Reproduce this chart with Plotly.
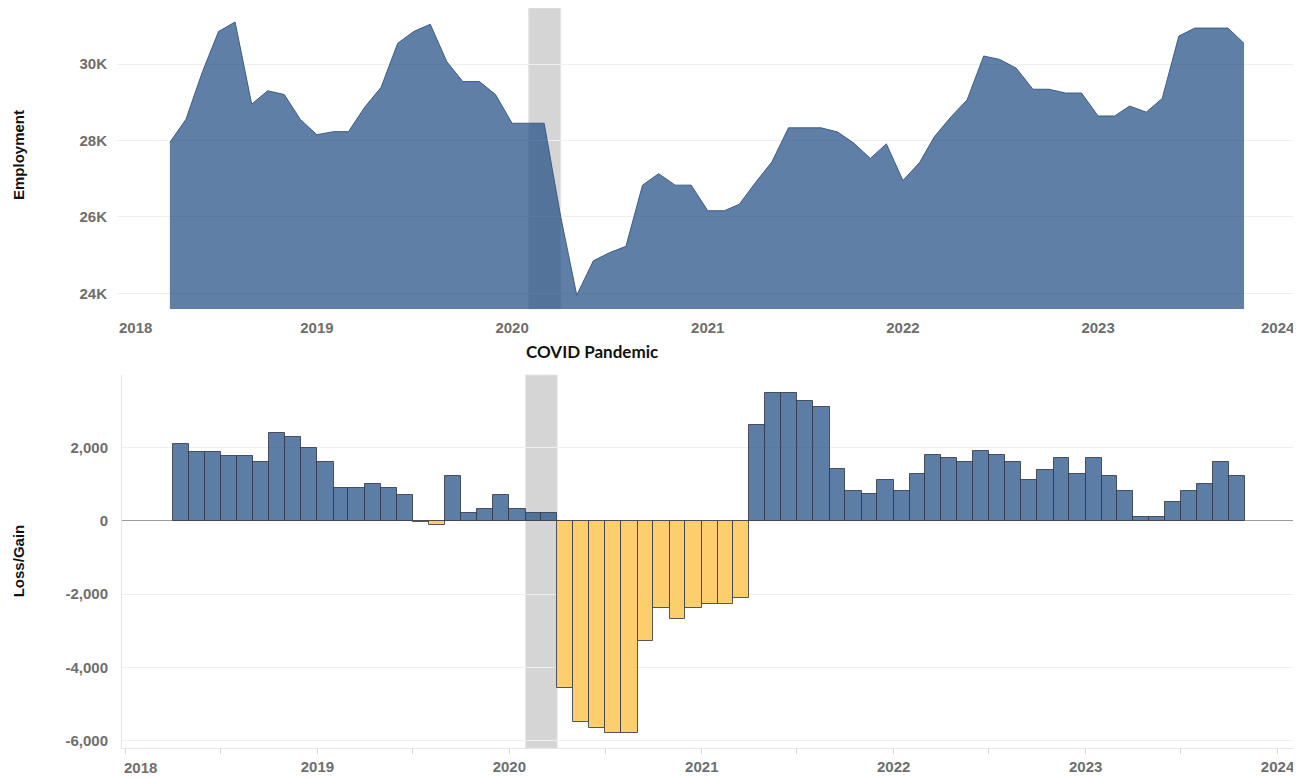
import pandas as pd
import plotly.graph_objects as go

# ---------------- data ----------------
MONTHS = pd.date_range("2018-04-01", "2023-10-01", freq="MS")

EMPLOYMENT = [
    27950, 28550, 29800, 30850, 31100, 28950, 29300, 29200, 28550,            # 2018 Apr-Dec
    28150, 28230, 28230, 28880, 29390, 30540, 30850, 31040, 30060, 29540, 29540, 29200,  # 2019
    28450, 28450, 28450, 26000, 23950, 24850, 25060, 25230, 26830, 27130, 26830, 26830,  # 2020
    26160, 26160, 26330, 26910, 27440, 28330, 28330, 28330, 28220, 27930, 27530, 27910,  # 2021
    26950, 27420, 28100, 28620, 29060, 30210, 30120, 29890, 29340, 29340, 29240, 29240,  # 2022
    28640, 28640, 28900, 28740, 29100, 30730, 30940, 30940, 30940, 30540,              # 2023 Jan-Oct
]

LOSS_GAIN = [
    2100, 1880, 1880, 1770, 1770, 1600, 2390, 2280, 1990,
    1600, 890, 890, 1000, 890, 710, -30, -110, 1220, 220, 330, 710,
    310, 220, 220, -4570, -5500, -5660, -5780, -5780, -3290, -2380, -2670, -2390,
    -2280, -2280, -2100, 2610, 3490, 3490, 3270, 3100, 1400, 810, 720, 1110,
    810, 1280, 1780, 1710, 1600, 1890, 1780, 1600, 1110, 1390, 1710, 1280,
    1710, 1210, 820, 110, 110, 500, 820, 1000, 1610, 1210,
]

EMP_TICKS = [24000, 26000, 28000, 30000]
EMP_TICK_TEXT = ["24K", "26K", "28K", "30K"]
LG_TICKS = [-6000, -4000, -2000, 0, 2000]
LG_TICK_TEXT = ["-6,000", "-4,000", "-2,000", "0", "2,000"]
YEARS = [2018, 2019, 2020, 2021, 2022, 2023, 2024]

COVID_START = "2020-02-01"
COVID_END = "2020-04-01"
COVID_LABEL = "COVID Pandemic"

# ---------------- layout helpers ----------------
# the page body keeps its default 8px margin, so the figure is drawn 8px in
PAGE_W, PAGE_H, BODY = 1301, 778, 8
W, H = PAGE_W - BODY, PAGE_H - BODY


def fx(px):
    return min(1.0, max(0.0, (px - BODY) / W))


def fy(py):
    return min(1.0, max(0.0, 1 - (py - BODY) / H))


BLUE_AREA = "rgba(28,72,128,0.70)"
BLUE_LINE = "rgba(60,92,135,1)"
BLUE_BAR = "rgba(35,80,135,0.74)"
YELLOW_BAR = "rgba(253,198,85,0.85)"
BAR_EDGE = "rgba(55,60,70,0.85)"
GRAY_BAND = "#d5d5d5"
GRID = "#efefef"
TICK_COLOR = "#6e6e6e"
TICK_FONT = dict(family="Liberation Sans", size=15, color=TICK_COLOR, weight="bold")

month_widths = [
    ((m + pd.offsets.MonthBegin(1)) - m).total_seconds() * 1000 for m in MONTHS
]
bar_colors = [BLUE_BAR if v >= 0 else YELLOW_BAR for v in LOSS_GAIN]

fig = go.Figure()

fig.add_trace(
    go.Scatter(
        x=MONTHS,
        y=EMPLOYMENT,
        mode="lines",
        fill="tozeroy",
        fillcolor=BLUE_AREA,
        line=dict(color=BLUE_LINE, width=1),
        xaxis="x",
        yaxis="y",
        hoverinfo="x+y",
        showlegend=False,
    )
)

fig.add_trace(
    go.Bar(
        x=MONTHS,
        y=LOSS_GAIN,
        width=month_widths,
        offset=0,
        marker=dict(color=bar_colors, line=dict(color=BAR_EDGE, width=1)),
        xaxis="x2",
        yaxis="y2",
        showlegend=False,
    )
)

year_dates = [pd.Timestamp(f"{y}-01-01") for y in YEARS]

fig.update_layout(
    width=W,
    height=H,
    margin=dict(l=0, r=0, t=0, b=0),
    paper_bgcolor="white",
    plot_bgcolor="white",
    bargap=0,
    xaxis=dict(
        domain=[fx(117), fx(1297)],
        range=["2017-12-23 03:00", "2024-01-08"],
        type="date",
        tickvals=year_dates[1:-1],
        ticktext=[str(y) for y in YEARS[1:-1]],
        showgrid=False,
        zeroline=False,
        showline=False,
        ticks="",
        tickfont=TICK_FONT,
        ticklabelstandoff=8,
        automargin=False,
        anchor="y",
    ),
    yaxis=dict(
        domain=[fy(309), fy(8)],
        range=[23589, 31466],
        tickvals=EMP_TICKS,
        ticktext=EMP_TICK_TEXT,
        showgrid=True,
        gridcolor=GRID,
        gridwidth=1,
        zeroline=False,
        showline=False,
        ticks="",
        tickfont=TICK_FONT,
        ticklabelstandoff=9,
        automargin=False,
        anchor="x",
    ),
    xaxis2=dict(
        domain=[fx(122), fx(1297)],
        range=["2017-12-25 08:00", "2024-02-07"],
        type="date",
        tickvals=year_dates[1:],
        ticktext=[str(y) for y in YEARS[1:]],
        showgrid=False,
        zeroline=False,
        showline=True,
        linecolor="#e6e6e6",
        linewidth=1,
        ticks="",
        minor=dict(ticks="outside", dtick="M6", tick0="2018-01-01",
                   ticklen=5, tickcolor="#d6d6d6", tickwidth=1, showgrid=False),
        tickfont=TICK_FONT,
        ticklabelstandoff=5,
        automargin=False,
        anchor="y2",
    ),
    yaxis2=dict(
        domain=[fy(748.3), fy(375)],
        range=[-6207, 3973],
        tickvals=LG_TICKS,
        ticktext=LG_TICK_TEXT,
        showgrid=True,
        gridcolor=GRID,
        gridwidth=1,
        zeroline=True,
        zerolinecolor="#9c9c9c",
        zerolinewidth=1,
        showline=True,
        linecolor="#e6e6e6",
        linewidth=1,
        ticks="",
        tickfont=TICK_FONT,
        ticklabelstandoff=10,
        automargin=False,
        anchor="x2",
    ),
    shapes=[
        dict(type="rect", xref="x", yref="y domain", x0=COVID_START, x1=COVID_END,
             y0=0, y1=1, fillcolor=GRAY_BAND, line=dict(color="#e6e6e6", width=1),
             layer="below"),
        dict(type="rect", xref="x2", yref="y2 domain", x0=COVID_START, x1=COVID_END,
             y0=0, y1=1, fillcolor=GRAY_BAND, line=dict(color="#e6e6e6", width=1),
             layer="below"),
    ],
    annotations=[
        dict(text="Employment", textangle=-90, xref="paper", yref="paper",
             x=fx(18.5), y=fy(155.5), xanchor="center", yanchor="middle", showarrow=False,
             font=dict(family="Liberation Sans", size=15, color="#111", weight="bold")),
        dict(text="Loss/Gain", textangle=-90, xref="paper", yref="paper",
             x=fx(18.8), y=fy(560.5), xanchor="center", yanchor="middle", showarrow=False,
             font=dict(family="Liberation Sans", size=15, color="#111", weight="bold")),
        dict(text=COVID_LABEL, xref="paper", yref="paper",
             x=fx(591.5), y=fy(352), xanchor="center", yanchor="middle", showarrow=False,
             font=dict(family="Lato", size=17, color="#111", weight="bold")),
        dict(text=str(YEARS[0]), xref="x domain", yref="paper", x=0, y=fy(327),
             xanchor="left", yanchor="middle", showarrow=False, font=TICK_FONT),
        dict(text=str(YEARS[-1]), xref="x domain", yref="paper", x=1, y=fy(327),
             xanchor="right", yanchor="middle", showarrow=False, font=TICK_FONT),
        dict(text=str(YEARS[0]), xref="x2 domain", yref="paper", x=0, y=fy(767),
             xanchor="left", yanchor="middle", showarrow=False, font=TICK_FONT),
    ],
)

fig.write_html("out.html")
